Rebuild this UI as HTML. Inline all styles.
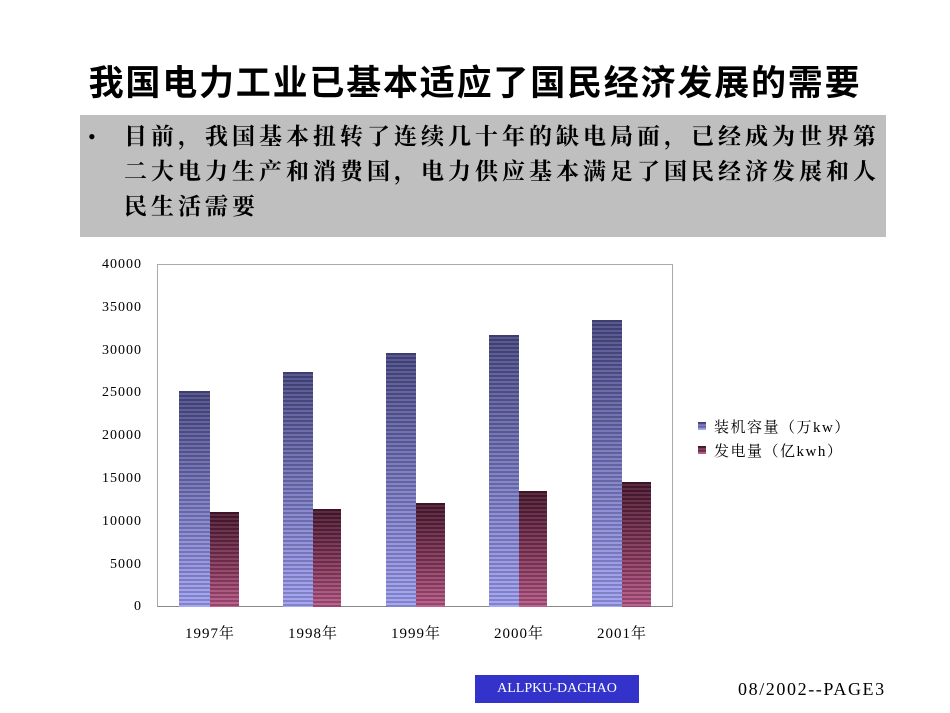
<!DOCTYPE html>
<html><head><meta charset="utf-8"><style>
body{margin:0;width:950px;height:713px;background:#fff;position:relative;font-family:"Liberation Serif","Noto Serif CJK SC",serif;overflow:hidden}
.abs{position:absolute}
.title{left:0;width:950px;top:55px;text-align:center;font-size:35px;letter-spacing:1.8px;font-weight:bold;font-family:"Liberation Sans","Noto Sans CJK SC",sans-serif;color:#000}
.box{left:80px;top:115px;width:806px;height:122px;background:#bfbfbf}
.btxt{left:124px;top:119px;width:770px;font-size:23px;line-height:35px;font-weight:bold;font-family:"Liberation Serif","Noto Serif CJK SC",serif;letter-spacing:4px}
.bul{left:88px;top:119px;font-size:22px;line-height:35px}
.plot{left:157px;top:264px;width:516px;height:343px;border:1px solid #aaa;border-bottom:1px solid #888;box-sizing:border-box}
.yl{width:60px;text-align:right;font-size:14px;left:82px;letter-spacing:1px}
.bar{position:absolute}
.b{background:repeating-linear-gradient(to bottom,rgba(0,0,0,0.18) 0 2px,rgba(255,255,255,0.08) 2px 4px),linear-gradient(to bottom,#4a4a86,#8a8ad8 70%,#a0a0f4)}
.r{background:repeating-linear-gradient(to bottom,rgba(0,0,0,0.18) 0 2px,rgba(255,255,255,0.08) 2px 4px),linear-gradient(to bottom,#4a1830,#8a3a5e 60%,#b85888)}
.xl{font-size:15px;width:100px;text-align:center;top:622px;letter-spacing:1px}
</style></head><body>
<div class="abs title">我国电力工业已基本适应了国民经济发展的需要</div>
<div class="abs box"></div>
<div class="abs bul">•</div>
<div class="abs btxt">目前，我国基本扭转了连续几十年的缺电局面，已经成为世界第<br>二大电力生产和消费国，电力供应基本满足了国民经济发展和人<br>民生活需要</div>
<div class="abs plot"></div>
<div class="abs yl" style="top:257px">40000</div>
<div class="abs yl" style="top:300px">35000</div>
<div class="abs yl" style="top:343px">30000</div>
<div class="abs yl" style="top:385px">25000</div>
<div class="abs yl" style="top:428px">20000</div>
<div class="abs yl" style="top:471px">15000</div>
<div class="abs yl" style="top:514px">10000</div>
<div class="abs yl" style="top:557px">5000</div>
<div class="abs yl" style="top:599px">0</div>
<div class="bar b" style="left:179px;top:391px;width:31px;height:216px"></div>
<div class="bar r" style="left:210px;top:512px;width:29px;height:95px"></div>
<div class="bar b" style="left:283px;top:372px;width:30px;height:235px"></div>
<div class="bar r" style="left:313px;top:509px;width:28px;height:98px"></div>
<div class="bar b" style="left:386px;top:353px;width:30px;height:254px"></div>
<div class="bar r" style="left:416px;top:503px;width:29px;height:104px"></div>
<div class="bar b" style="left:489px;top:335px;width:30px;height:272px"></div>
<div class="bar r" style="left:519px;top:491px;width:28px;height:116px"></div>
<div class="bar b" style="left:592px;top:320px;width:30px;height:287px"></div>
<div class="bar r" style="left:622px;top:482px;width:29px;height:125px"></div>
<div class="abs xl" style="left:160px">1997年</div>
<div class="abs xl" style="left:263px">1998年</div>
<div class="abs xl" style="left:366px">1999年</div>
<div class="abs xl" style="left:469px">2000年</div>
<div class="abs xl" style="left:572px">2001年</div>
<div class="bar b" style="left:698px;top:422px;width:8px;height:8px"></div>
<div class="abs" style="left:714px;top:416px;font-size:15px;letter-spacing:1.5px">装机容量（万kw）</div>
<div class="bar r" style="left:698px;top:446px;width:8px;height:8px"></div>
<div class="abs" style="left:714px;top:440px;font-size:15px;letter-spacing:1.5px">发电量（亿kwh）</div>
<div class="abs" style="left:475px;top:675px;width:164px;height:28px;background:#3333cc;color:#fff;font-size:14px;line-height:28px;text-align:center">ALLPKU-DACHAO</div>
<div class="abs" style="left:738px;top:679px;font-size:18px;letter-spacing:1.6px">08/2002--PAGE3</div>
</body></html>
